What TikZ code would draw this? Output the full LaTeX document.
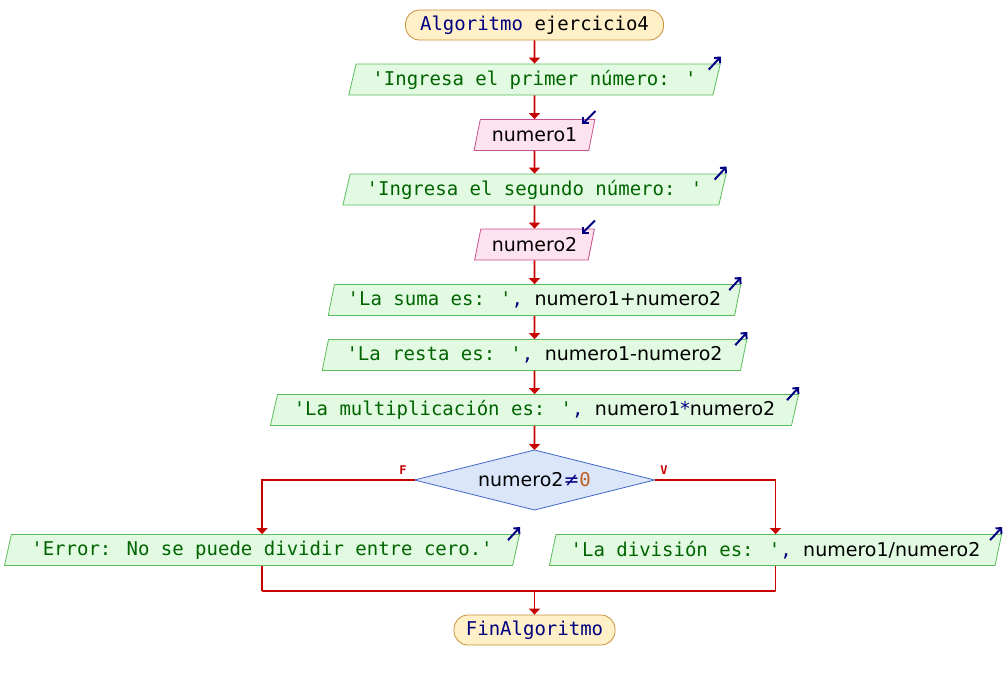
\documentclass[tikz,border=0pt]{standalone}
\usepackage{fontspec}
\usetikzlibrary{shapes.geometric,arrows.meta}
\newfontfamily\monof{DejaVu Sans Mono}
\newfontfamily\sansf{DejaVu Sans}
\definecolor{strgreen}{HTML}{006400}
\definecolor{kwblue}{HTML}{000080}
\definecolor{numbrown}{HTML}{C06020}
\definecolor{outfill}{HTML}{E2FAE2}
\definecolor{outdraw}{HTML}{5CBC5C}
\definecolor{infill}{HTML}{FDE2EF}
\definecolor{indraw}{HTML}{C8508C}
\definecolor{termfill}{HTML}{FFF0C8}
\definecolor{termdraw}{HTML}{C8903C}
\definecolor{decfill}{HTML}{DCE6FA}
\definecolor{decdraw}{HTML}{3C64C8}
\definecolor{flowred}{HTML}{C80000}
\newcommand{\str}[1]{{\monof\color{strgreen}#1}}
\newcommand{\kw}[1]{{\monof\color{kwblue}#1}}
\newcommand{\var}[1]{{\sansf\color{black}#1}}
\newcommand{\sep}{{\monof\color{kwblue},\ }}
\tikzset{
  x=1pt, y=-1pt,
  base/.style={inner sep=0pt, font=\fontsize{19}{21}\selectfont, line width=0.8pt},
  outbox/.style={base, trapezium, trapezium left angle=71, trapezium right angle=109,
    trapezium stretches=true, minimum height=31pt, fill=outfill, draw=outdraw},
  inbox/.style={base, trapezium, trapezium left angle=71, trapezium right angle=109,
    trapezium stretches=true, minimum height=31pt, fill=infill, draw=indraw},
  term/.style={base, rectangle, rounded corners=14pt, minimum height=30pt, fill=termfill, draw=termdraw},
  decshape/.style={fill=decfill, draw=decdraw, line width=0.8pt},
  flow/.style={draw=flowred, line width=1.8pt, -{Triangle[length=6pt,width=11pt]}},
  link/.style={draw=flowred, line width=1.8pt},
  icon/.style={draw=kwblue, line width=2pt, -{Straight Barb[length=4pt,width=8pt]}},
  lab/.style={text=flowred, font=\monof\bfseries\fontsize{12}{12}\selectfont, inner sep=0pt}
}
\begin{document}
\begin{tikzpicture}
\useasboundingbox (0,0) rectangle (1008,680);
\node[term, minimum width=258pt] (start) at (534.5,25) {\kw{Algoritmo}{\monof\ ejercicio4}};
\node[outbox, minimum width=372pt] (o1) at (534.5,79.5) {\str{'Ingresa el primer número: '}};
\node[inbox, minimum width=121pt] (i1) at (534.5,135) {\var{numero1}};
\node[outbox, minimum width=385pt] (o2) at (534.5,189.5) {\str{'Ingresa el segundo número: '}};
\node[inbox, minimum width=121pt] (i2) at (534.5,244.5) {\var{numero2}};
\node[outbox, minimum width=413pt] (o3) at (534.5,300) {\str{'La suma es: '}\sep\var{numero1+numero2}};
\node[outbox, minimum width=425pt] (o4) at (534.5,355) {\str{'La resta es: '}\sep\var{numero1-numero2}};
\node[outbox, minimum width=530pt] (o5) at (534.5,410) {\str{'La multiplicación es: '}\sep\var{numero1}{\sansf\color{kwblue}*}\var{numero2}};
\coordinate (dt) at (534.5,450);
\coordinate (db) at (534.5,510);
\coordinate (dl) at (414.5,480);
\coordinate (dr) at (654.5,480);
\path[decshape] (dt) -- (dr) -- (db) -- (dl) -- cycle;
\node[base] (d) at (534.5,480) {\var{numero2}{\sansf\color{kwblue}≠}{\monof\color{numbrown}0}};
\node[outbox, minimum width=516pt] (err) at (262,550) {\str{'Error: No se puede dividir entre cero.'}};
\node[outbox, minimum width=453pt] (div) at (775.5,550) {\str{'La división es: '}\sep\var{numero1/numero2}};
\node[term, minimum width=161pt] (fin) at (534.5,630) {\kw{FinAlgoritmo}};
\node[lab] (lf) at (403,470) {F};
\node[lab] (lv) at (664,470) {V};
% flow
\draw[flow] (start.south) -- (o1.north);
\draw[flow] (o1.south) -- (i1.north);
\draw[flow] (i1.south) -- (o2.north);
\draw[flow] (o2.south) -- (i2.north);
\draw[flow] (i2.south) -- (o3.north);
\draw[flow] (o3.south) -- (o4.north);
\draw[flow] (o4.south) -- (o5.north);
\draw[flow] (o5.south) -- (dt);
\draw[flow] (dl) -| (err.north);
\draw[flow] (dr) -| (div.north);
\draw[link] (err.south) -- ++(0,25) coordinate (jl);
\draw[link] (div.south) -- ++(0,25) coordinate (jr);
\draw[link] (jl) -- (jr);
\coordinate (jm) at (fin.north |- jl);
\draw[flow] (jm) -- (fin.north);
% icons
\foreach \n in {o1,o2,o3,o4,o5,err,div}{
  \draw[icon] ([shift={(-12,6)}]\n.top right corner) -- ([shift={(0,-7)}]\n.top right corner);
}
\foreach \n in {i1,i2}{
  \draw[icon] ([shift={(0,-8)}]\n.top right corner) -- ([shift={(-13,5)}]\n.top right corner);
}
\end{tikzpicture}
\end{document}
